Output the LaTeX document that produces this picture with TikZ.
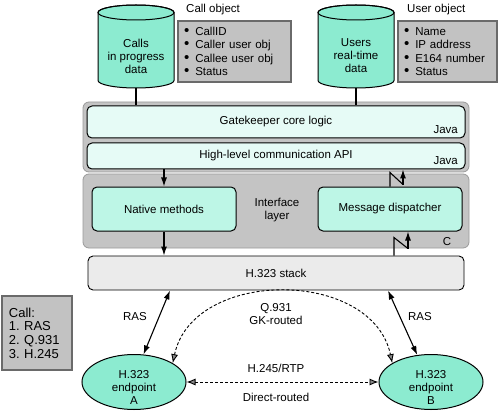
\documentclass[tikz,border=0pt]{standalone}
\usepackage{fontspec}
\setmainfont{Liberation Sans}
\usetikzlibrary{shapes.geometric,arrows.meta,calc}
\definecolor{mint}{HTML}{8CEBD0}
\definecolor{mintlt}{HTML}{BDF6E6}
\definecolor{paleaqua}{HTML}{E6FBF6}
\definecolor{panelgray}{HTML}{C4C4C4}
\definecolor{paneledge}{HTML}{9A9A9A}
\definecolor{stackgray}{HTML}{EBEBEB}
\definecolor{objgray}{HTML}{C2C2C2}
\definecolor{objedge}{HTML}{6A6A6A}
\definecolor{headgray}{HTML}{8A8A8A}
\newcommand\bul{{\fontsize{15}{13}\selectfont\textbullet}\hspace{6pt}}
\frenchspacing
\begin{document}
\begin{tikzpicture}[x=1pt,y=-1pt,
  font=\fontsize{11.5}{13}\selectfont\frenchspacing,
  dbshape/.style={fill=mint, draw, line width=1pt},
  objbox/.style={draw=objedge, line width=1.2pt, fill=objgray, minimum width=113pt,
    minimum height=61pt, inner xsep=6pt, text width=101pt, align=left},
  panel/.style={draw=paneledge, line width=0.8pt, fill=panelgray, rounded corners=6pt,
    minimum width=386pt, inner sep=0pt},
  layer/.style={draw, line width=1pt, fill=paleaqua, rounded corners=5pt,
    minimum width=378pt, inner sep=0pt},
  module/.style={draw, line width=1pt, fill=mintlt, rounded corners=5pt,
    minimum width=144pt, minimum height=44pt, inner sep=0pt},
  endpt/.style={ellipse, draw, line width=1pt, fill=mint, minimum width=104pt,
    minimum height=55pt, inner sep=0pt},
  lbl/.style={inner sep=0pt, align=center},
  arr/.style={-{Latex[length=9pt,width=6pt]}, line width=1.1pt},
  darr/.style={{Latex[length=9pt,width=6pt]}-{Latex[length=9pt,width=6pt]}, line width=1.1pt},
  dasharr/.style={{Latex[length=9pt,width=7pt,fill=headgray]}-{Latex[length=9pt,width=7pt,fill=headgray]},
    line width=0.9pt, dash pattern=on 3pt off 2pt},
  plain/.style={line width=1.1pt}
]
\useasboundingbox (0,0) rectangle (500,414);

% databases
\filldraw[dbshape] (98,12.5) -- (98,80.5) arc[start angle=180, end angle=360, x radius=38pt, y radius=7.5pt]
  -- (174,12.5) arc[start angle=0, end angle=180, x radius=38pt, y radius=7.5pt] -- cycle;
\draw[line width=1pt] (136,12.5) ellipse [x radius=38pt, y radius=7.5pt];
\coordinate (cyl1) at (136,88);
\node[lbl] (cyl1t) at (136,56) {Calls\\in progress\\data};

\filldraw[dbshape] (318,12.5) -- (318,80.5) arc[start angle=180, end angle=360, x radius=38pt, y radius=7.5pt]
  -- (394,12.5) arc[start angle=0, end angle=180, x radius=38pt, y radius=7.5pt] -- cycle;
\draw[line width=1pt] (356,12.5) ellipse [x radius=38pt, y radius=7.5pt];
\coordinate (cyl2) at (356,88);
\node[lbl] (cyl2t) at (356,56) {Users\\real-time\\data};

% object boxes
\node[lbl, anchor=west] (callobjt) at (186,10) {Call object};
\node[objbox] (callobj) at (234.5,51.5) {\bul CallID\\[0.5pt]\bul Caller user obj\\[0.5pt]\bul Callee user obj\\[0.5pt]\bul Status};
\node[lbl, anchor=west] (userobjt) at (407,10) {User object};
\node[objbox, minimum width=99pt, text width=87pt] (userobj) at (447.5,51.5) {\bul Name\\[0.5pt]\bul IP address\\[0.5pt]\bul E164 number\\[0.5pt]\bul Status};

% panels
\node[panel, minimum height=70pt] (javap) at (276,137) {};
\node[panel, minimum height=74pt] (cp) at (276,211) {};

% layers
\node[layer, minimum height=32pt] (gk) at (276,122) {Gatekeeper core logic};
\node[lbl, anchor=east] (java1) at (458,130) {Java};
\node[layer, minimum height=26pt] (api) at (276,156) {High-level communication API};
\node[lbl, anchor=east] (java2) at (458,161) {Java};

\node[module] (nat) at (164,209) {Native methods};
\node[module] (disp) at (390,209) {Message dispatcher};
\node[lbl] (iface) at (277,210) {Interface\\layer};
\node[lbl] (clabel) at (447,242) {C};

\node[draw, line width=0.9pt, fill=stackgray, rounded corners=5pt, minimum width=376pt,
  minimum height=34pt, inner sep=0pt] (stack) at (276,273) {H.323 stack};

% legend
\node[draw=objedge, line width=1.5pt, fill=objgray, minimum width=70pt, minimum height=74pt,
  inner xsep=7pt, text width=56pt, align=left, font=\fontsize{13}{13.6}\selectfont\frenchspacing] (legend) at (37,333)
  {Call:\\1. RAS\\2. Q.931\\3. H.245};

% endpoints
\node[endpt] (A) at (134,382) {};
\node[lbl] (At) at (134,387) {H.323\\endpoint\\A};
\node[endpt] (B) at (431,382) {};
\node[lbl] (Bt) at (431,387) {H.323\\endpoint\\B};

% connectors: databases to core logic
\draw[plain] (cyl1) -- (cyl1 |- gk.north);
\draw[plain] (cyl2) -- (cyl2 |- gk.north);

% native methods path
\draw[arr] (nat.north |- api.south) -- (nat.north);
\draw[arr] (nat.south) -- (nat.south |- stack.north);

% dispatcher zigzags
\draw[plain] (disp.north) -- ++(0,-14) -- ++(13,12) coordinate (z1);
\draw[arr] (z1) -- (z1 |- api.south);
\draw[plain] ($(disp.south |- stack.north)+(4,0)$) -- ++(0,-18) -- ++(14,11) coordinate (z2);
\draw[arr] (z2) -- (z2 |- disp.south);

% RAS
\draw[darr] ([xshift=-106pt]stack.south) -- (A.71);
\draw[darr] ([xshift=112pt]stack.south) -- (B.117);
\node[lbl] (ras1) at (135,317) {RAS};
\node[lbl] (ras2) at (420,317) {RAS};

% Q.931 arc
\draw[dasharr] (A.26) .. controls +(20,-95) and +(-20,-95) .. (B.154);
\node[lbl] (q931) at (276,314) {Q.931\\GK-routed};

% H.245
\draw[dasharr] (A.east) -- (B.west);
\node[lbl] (h245) at (276,368) {H.245/RTP};
\node[lbl] (direct) at (276,397) {Direct-routed};
\end{tikzpicture}
\end{document}
